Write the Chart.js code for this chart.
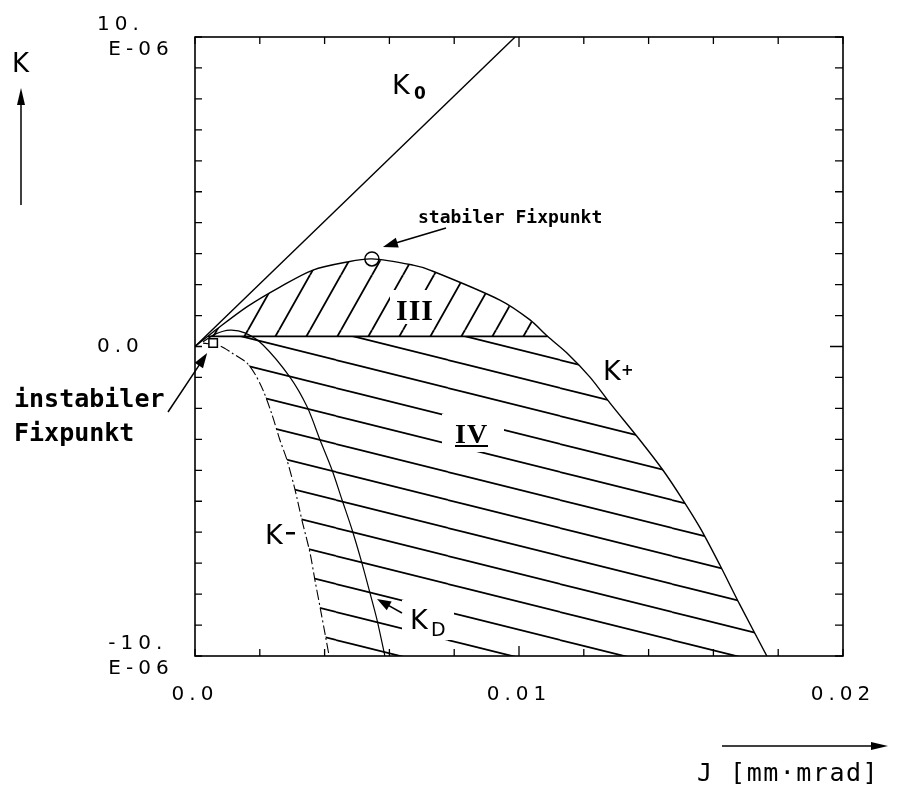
<!DOCTYPE html>
<html>
<head>
<meta charset="utf-8">
<title>K(J) Fixpunkte</title>
<script src="https://cdn.jsdelivr.net/npm/chart.js@4.4.1/dist/chart.umd.min.js"></script>
<style>
  html, body { margin: 0; padding: 0; background: #fff; }
  #wrap { width: 903px; height: 789px; }
</style>
</head>
<body>
<div id="wrap"><canvas id="phaseChart" width="903" height="789"></canvas></div>
<script>
// J in mm·mrad, K in units of 1e-6

const k0J = [0, 0.00988];
const k0K = [0, 10.0];

const kPlusJ = [0, 0.00025, 0.00056, 0.0016, 0.00262, 0.00364, 0.00469, 0.00546, 0.00673, 0.00725,
                0.00941, 0.01034, 0.01088, 0.01148, 0.01219, 0.01281, 0.01373, 0.01444, 0.01506,
                0.01559, 0.0162, 0.01682, 0.01765];
const kPlusK = [0, 0.21, 0.47, 1.28, 1.92, 2.47, 2.73, 2.83, 2.63, 2.47,
                1.50, 0.86, 0.33, -0.21, -0.99, -1.83, -3.02, -3.99, -4.96,
                -5.86, -7.06, -8.35, -10.0];

const kMinusJ = [0.00025, 0.00077, 0.00114, 0.0016, 0.00185, 0.0021, 0.00238, 0.00262, 0.00284,
                 0.00309, 0.0033, 0.00355, 0.0037, 0.00386, 0.00401, 0.00414];
const kMinusK = [0.11, 0.02, -0.21, -0.53, -0.89, -1.41, -2.21, -3.02, -3.67,
                 -4.64, -5.61, -6.67, -7.54, -8.42, -9.26, -10.0];

const kDJ = [0.00025, 0.00062, 0.00108, 0.00154, 0.0021, 0.00293, 0.00346, 0.00386, 0.00423,
             0.00454, 0.00485, 0.00515, 0.0054, 0.00562, 0.00586];
const kDK = [0.15, 0.40, 0.53, 0.44, 0.05, -0.99, -1.95, -3.02, -3.99,
             -4.96, -5.93, -6.99, -7.96, -8.84, -10.0];

// border between region III and IV
const sepJ = [0.0004, 0.01088];
const sepK = [0.33, 0.33];

// fixed points
const stableJ = 0.00546, stableK = 2.83;
const unstableJ = 0.00056, unstableK = 0.11;

// axis ticks and labels
const jTicks = [0, 0.002, 0.004, 0.006, 0.008, 0.01, 0.012, 0.014, 0.016, 0.018, 0.02];
const kTicks = [-10, -9, -8, -7, -6, -5, -4, -3, -2, -1, 0, 1, 2, 3, 4, 5, 6, 7, 8, 9, 10];
const jLabels = { '0': '0.0', '0.01': '0.01', '0.02': '0.02' };
const kLabels = { '10': ['10.', ' E-06'], '0': '0.0', '-10': [' -10.', ' E-06'] };

const pts = (xs, ys) => xs.map((x, i) => ({ x: x, y: ys[i] }));

const kPlus = pts(kPlusJ, kPlusK);
const kMinus = pts(kMinusJ, kMinusK);
const sep = pts(sepJ, sepK);

// region III: above the border, under K+
const region3 = [sep[0]].concat(kPlus.filter(p => p.x > sepJ[0] && p.x < sepJ[1]), [sep[1]]);
// region IV: under the border, between K- and K+
const region4 = [sep[0], sep[1]].concat(kPlus.filter(p => p.x > sepJ[1]), kMinus.slice().reverse());

const canvas = document.getElementById('phaseChart');
const ctx = canvas.getContext('2d');

function hatch(w, h, segs) {
    const tile = document.createElement('canvas');
    tile.width = w;
    tile.height = h;
    const g = tile.getContext('2d');
    g.strokeStyle = '#000';
    g.lineWidth = 1.8;
    segs.forEach(s => {
        g.beginPath();
        g.moveTo(s[0], s[1]);
        g.lineTo(s[2], s[3]);
        g.stroke();
    });
    return ctx.createPattern(tile, 'repeat');
}

const hatch3 = hatch(31, 55, [[-31, 55, 0, 0], [0, 55, 31, 0], [31, 55, 62, 0]]);
const hatch4 = hatch(112, 28, [[0, -32, 112, -4], [0, -4, 112, 24], [0, 24, 112, 52]]);

function arrow(c, x1, y1, x2, y2, len, half) {
    const a = Math.atan2(y2 - y1, x2 - x1);
    c.beginPath();
    c.moveTo(x1, y1);
    c.lineTo(x2 - Math.cos(a) * len * 0.6, y2 - Math.sin(a) * len * 0.6);
    c.stroke();
    c.beginPath();
    c.moveTo(x2, y2);
    c.lineTo(x2 - Math.cos(a) * len - Math.sin(a) * half, y2 - Math.sin(a) * len + Math.cos(a) * half);
    c.lineTo(x2 - Math.cos(a) * len + Math.sin(a) * half, y2 - Math.sin(a) * len - Math.cos(a) * half);
    c.closePath();
    c.fill();
}

function text(c, s, x, y, font, spacing) {
    c.font = font;
    c.letterSpacing = (spacing || 0) + 'px';
    c.fillText(s, x, y);
}

function blank(c, x, y, w, h) {
    c.fillStyle = '#fff';
    c.fillRect(x, y, w, h);
    c.fillStyle = '#000';
}

// spaced plotter style for the tick labels
const spacing = {
    id: 'spacing',
    beforeDraw(chart) { chart.ctx.letterSpacing = '5px'; },
    afterDatasetsDraw(chart) { chart.ctx.letterSpacing = '0px'; }
};

// frame with inward ticks on all four sides
const frame = {
    id: 'frame',
    afterDatasetsDraw(chart) {
        const c = chart.ctx, a = chart.chartArea;
        const x = chart.scales.x, y = chart.scales.y;
        c.save();
        c.strokeStyle = '#000';
        c.lineWidth = 1.6;
        c.strokeRect(a.left, a.top, a.right - a.left, a.bottom - a.top);
        c.lineWidth = 1.3;
        c.beginPath();
        jTicks.forEach(v => {
            const px = x.getPixelForValue(v);
            const len = v === 0.01 ? 10 : 7;
            c.moveTo(px, a.bottom); c.lineTo(px, a.bottom - len);
            c.moveTo(px, a.top); c.lineTo(px, a.top + len);
        });
        kTicks.forEach(v => {
            const py = y.getPixelForValue(v);
            c.moveTo(a.left, py); c.lineTo(a.left + 7, py);
            c.moveTo(a.right, py); c.lineTo(a.right - (v === 0 ? 13 : 8), py);
        });
        c.stroke();
        c.restore();
    }
};

const notes = {
    id: 'notes',
    afterDraw(chart) {
        const c = chart.ctx;
        const x = chart.scales.x, y = chart.scales.y;
        c.save();
        c.fillStyle = '#000';
        c.strokeStyle = '#000';
        c.lineWidth = 1.5;
        c.textBaseline = 'alphabetic';

        // gaps in the hatching for the region labels
        blank(c, 390, 290, 44, 34);
        blank(c, 442, 414, 62, 38);
        blank(c, 402, 600, 52, 40);

        text(c, 'III', 396, 320, 'bold 30px "Liberation Serif"', 1);
        text(c, 'IV', 455, 443, 'bold 28px "Liberation Serif"', 1);
        c.fillRect(455, 445, 33, 2);

        // curve names
        text(c, 'K', 392, 94, '27px "DejaVu Sans"');
        text(c, '0', 414, 99, 'bold 17px "DejaVu Sans"');
        text(c, 'K', 603, 380, '27px "DejaVu Sans"');
        text(c, '+', 621, 375, 'bold 15px "DejaVu Sans"');
        text(c, 'K', 265, 544, '27px "DejaVu Sans"');
        c.fillRect(286, 532, 9, 2.5);
        text(c, 'K', 410, 629, '27px "DejaVu Sans"');
        text(c, 'D', 431, 636, '19px "DejaVu Sans"');
        arrow(c, 402, 613, 377, 599, 14, 5);

        // fixed points
        const sx = x.getPixelForValue(stableJ), sy = y.getPixelForValue(stableK);
        text(c, 'stabiler Fixpunkt', 418, 223, 'bold 18px "DejaVu Sans Mono"');
        arrow(c, 446, 228, sx + 11, sy - 12, 15, 5);
        const ux = x.getPixelForValue(unstableJ), uy = y.getPixelForValue(unstableK);
        text(c, 'instabiler', 14, 407, 'bold 25px "DejaVu Sans Mono"');
        text(c, 'Fixpunkt', 14, 441, 'bold 25px "DejaVu Sans Mono"');
        arrow(c, 168, 412, ux - 6, uy + 10, 15, 5);

        // axis titles
        text(c, 'K', 12, 72, '26px "DejaVu Sans"');
        arrow(c, 21, 205, 21, 88, 17, 4);
        text(c, 'J [mm\u00b7mrad]', 697, 781, '25px "DejaVu Sans Mono"', 1.5);
        arrow(c, 722, 746, 888, 746, 17, 4);
        c.restore();
    }
};

new Chart(ctx, {
    type: 'line',
    data: {
        datasets: [
            {
                label: 'stabiler Fixpunkt',
                data: [{ x: stableJ, y: stableK }],
                showLine: false,
                pointStyle: 'circle',
                pointRadius: 7,
                pointBorderWidth: 1.5,
                pointBorderColor: '#000',
                pointBackgroundColor: 'rgba(0,0,0,0)'
            },
            {
                label: 'instabiler Fixpunkt',
                data: [{ x: unstableJ, y: unstableK }],
                showLine: false,
                pointStyle: 'rect',
                pointRadius: 6,
                pointBorderWidth: 1.5,
                pointBorderColor: '#000',
                pointBackgroundColor: '#fff'
            },
            {
                label: 'K0',
                data: pts(k0J, k0K),
                borderColor: '#000',
                borderWidth: 1.4,
                pointRadius: 0
            },
            {
                label: 'K+',
                data: kPlus,
                borderColor: '#000',
                borderWidth: 1.4,
                pointRadius: 0,
                tension: 0.3
            },
            {
                label: 'K-',
                data: kMinus,
                borderColor: '#000',
                borderWidth: 1.1,
                borderDash: [10, 3, 2, 3],
                pointRadius: 0,
                tension: 0.3
            },
            {
                label: 'KD',
                data: pts(kDJ, kDK),
                borderColor: '#000',
                borderWidth: 1.2,
                pointRadius: 0,
                tension: 0.3
            },
            {
                label: 'border',
                data: sep,
                borderColor: '#000',
                borderWidth: 1.8,
                pointRadius: 0
            },
            {
                label: 'III',
                data: region3,
                borderWidth: 0,
                pointRadius: 0,
                backgroundColor: hatch3,
                fill: 'shape'
            },
            {
                label: 'IV',
                data: region4,
                borderWidth: 0,
                pointRadius: 0,
                backgroundColor: hatch4,
                fill: 'shape'
            }
        ]
    },
    options: {
        responsive: false,
        animation: false,
        devicePixelRatio: 1,
        layout: { padding: { left: 97, right: 60, top: 37, bottom: 73 } },
        plugins: {
            legend: { display: false },
            tooltip: { enabled: false }
        },
        scales: {
            x: {
                type: 'linear',
                min: 0,
                max: 0.02,
                grid: { display: false, drawTicks: false },
                border: { display: false },
                afterFit(scale) { scale.height = 60; },
                ticks: {
                    stepSize: 0.01,
                    padding: 27,
                    maxRotation: 0,
                    autoSkip: false,
                    color: '#000',
                    font: { family: 'DejaVu Sans', size: 20 },
                    callback: v => jLabels[String(+v.toFixed(4))] || ''
                }
            },
            y: {
                type: 'linear',
                min: -10,
                max: 10,
                grid: { display: false, drawTicks: false },
                border: { display: false },
                afterFit(scale) { scale.width = 98; },
                ticks: {
                    stepSize: 10,
                    crossAlign: 'far',
                    color: '#000',
                    font: { family: 'DejaVu Sans', size: 20, lineHeight: 1.25 },
                    callback: v => kLabels[String(v)] || ''
                }
            }
        }
    },
    plugins: [spacing, frame, notes]
});
</script>
</body>
</html>
